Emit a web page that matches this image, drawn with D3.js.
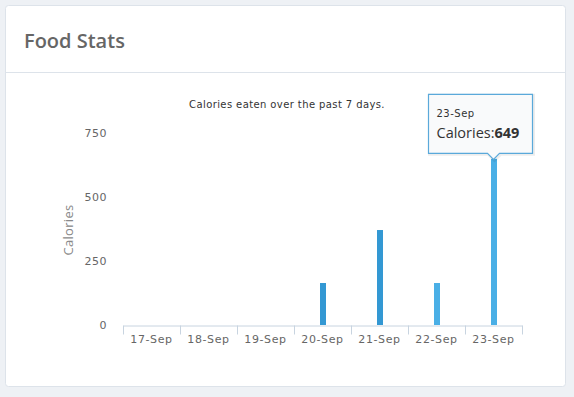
<!DOCTYPE html>
<html>
<head>
<meta charset="utf-8">
<script src="https://cdn.jsdelivr.net/npm/d3@7"></script>
<style>
  body { margin: 0; background: #eef1f5; }
  #chart { position: absolute; left: 0; top: 0; }
</style>
</head>
<body>
<div id="chart"></div>
<script>
// data
var days = ["17-Sep", "18-Sep", "19-Sep", "20-Sep", "21-Sep", "22-Sep", "23-Sep"];
var calories = [0, 0, 0, 164, 371, 164, 649];
var barColors = ["#3398d3", "#3398d3", "#3398d3", "#3398d3", "#3398d3", "#4aafe6", "#4aafe6"];
var yTicks = [0, 250, 500, 750];
var hoverIndex = 6;

var svgWidth = 574, svgHeight = 397;
var margin = { top: 133, left: 123, right: 52, bottom: 72 };
var chartWidth = svgWidth - margin.left - margin.right;

var svg = d3.select("#chart").append("svg")
  .attr("width", svgWidth)
  .attr("height", svgHeight);

// panel
svg.append("rect")
  .attr("x", 5.5).attr("y", 5.5)
  .attr("width", 560).attr("height", 381)
  .attr("rx", 3)
  .attr("fill", "#fff")
  .attr("stroke", "#dde3ea");

svg.append("text")
  .attr("x", 24).attr("y", 48)
  .attr("font-family", "Open Sans")
  .attr("font-weight", 600)
  .attr("font-size", 20)
  .attr("fill", "#666")
  .text("Food Stats");

svg.append("line")
  .attr("x1", 6).attr("x2", 565)
  .attr("y1", 72.5).attr("y2", 72.5)
  .attr("stroke", "#dde3ea");

svg.append("text")
  .attr("x", 287).attr("y", 108)
  .attr("text-anchor", "middle")
  .attr("font-family", "DejaVu Sans")
  .attr("font-size", 10)
  .attr("letter-spacing", 0.4)
  .attr("fill", "#333")
  .text("Calories eaten over the past 7 days.");

var chartGroup = svg.append("g")
  .attr("transform", `translate(${margin.left}, ${margin.top})`);

var xScale = d3.scaleBand()
  .domain(days)
  .range([0, chartWidth]);

var yScale = d3.scaleLinear()
  .domain([0, 750])
  .range([192, 0]);

// y axis (labels only)
var leftAxis = d3.axisLeft(yScale).tickValues(yTicks).tickSize(0).tickPadding(16);
var yAxisG = chartGroup.append("g").call(leftAxis);
yAxisG.select(".domain").remove();
yAxisG.selectAll("text")
  .attr("font-family", "DejaVu Sans")
  .attr("font-size", 11)
  .attr("letter-spacing", 0.5)
  .attr("fill", "#666");

// x axis
var bottomAxis = d3.axisBottom(xScale).tickSizeOuter(0).tickSize(0).tickPadding(10);
var xAxisG = chartGroup.append("g")
  .attr("transform", `translate(0, ${yScale(0) + 0.5})`)
  .call(bottomAxis);
xAxisG.select(".domain").attr("stroke", "#c8d4e0");
xAxisG.selectAll("text")
  .attr("font-family", "DejaVu Sans")
  .attr("font-size", 11)
  .attr("letter-spacing", 0.6)
  .attr("fill", "#666");
// tick marks between categories
xAxisG.selectAll(".sep")
  .data(d3.range(days.length + 1))
  .enter().append("line")
  .attr("class", "sep")
  .attr("x1", i => Math.round(i * xScale.bandwidth()) + 0.5)
  .attr("x2", i => Math.round(i * xScale.bandwidth()) + 0.5)
  .attr("y1", 0).attr("y2", 9)
  .attr("stroke", "#c8d4e0");

// axis title
svg.append("text")
  .attr("transform", "translate(73, 230) rotate(-90)")
  .attr("text-anchor", "middle")
  .attr("font-family", "Open Sans")
  .attr("font-size", 13)
  .attr("letter-spacing", 0.3)
  .attr("fill", "#888")
  .text("Calories");

// bars
var barWidth = 6;
chartGroup.selectAll(".bar")
  .data(days).enter()
  .append("rect")
  .attr("class", "bar")
  .attr("x", d => Math.round(xScale(d) + xScale.bandwidth() / 2 - barWidth / 2))
  .attr("y", (d, i) => yScale(calories[i]))
  .attr("width", barWidth)
  .attr("height", (d, i) => yScale(0) - yScale(calories[i]))
  .attr("fill", (d, i) => barColors[i]);

// tooltip
var tipX = margin.left + xScale(days[hoverIndex]) + xScale.bandwidth() / 2;
var tipY = margin.top + yScale(calories[hoverIndex]);
var tw = 104, th = 59;
var bx = 428.5, by = tipY - th - 5 - 0.5;
var tipPath = `M${bx},${by} h${tw} v${th} H${tipX + 6} l-6,6 l-6,-6 H${bx} Z`;
var tip = svg.append("g");
tip.append("path")
  .attr("d", tipPath)
  .attr("fill", "none")
  .attr("stroke", "rgba(0,0,0,0.07)")
  .attr("stroke-width", 3)
  .attr("transform", "translate(1,1)");
tip.append("path")
  .attr("d", tipPath)
  .attr("fill", "#f9fafb")
  .attr("stroke", "#5aa9da")
  .attr("stroke-width", 1.2);
tip.append("text")
  .attr("x", bx + 8).attr("y", by + 23)
  .attr("font-family", "DejaVu Sans")
  .attr("font-size", 10)
  .attr("letter-spacing", 0.5)
  .attr("fill", "#333")
  .text(days[hoverIndex]);
var t2 = tip.append("text")
  .attr("x", bx + 8).attr("y", by + 44)
  .attr("font-family", "Open Sans")
  .attr("font-size", 14.5)
  .attr("fill", "#333");
t2.append("tspan").text("Calories:");
t2.append("tspan").attr("font-weight", "bold").text(calories[hoverIndex]);
</script>
</body>
</html>
